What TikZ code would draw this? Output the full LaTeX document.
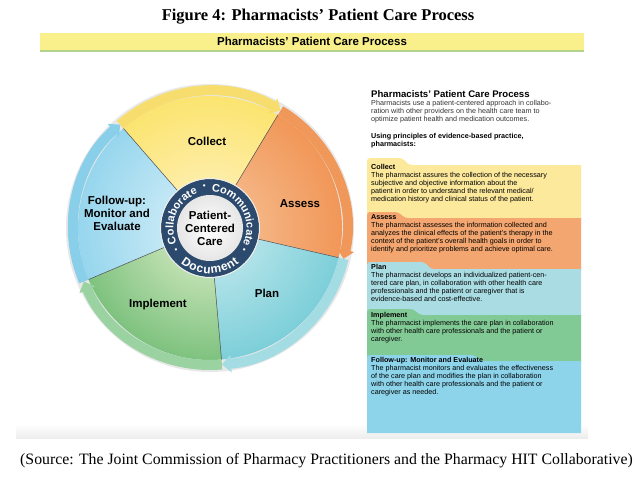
\documentclass[tikz,border=0pt]{standalone}
\usepackage{fontspec}
\setmainfont{Liberation Serif}
\setsansfont{Liberation Sans}
\usetikzlibrary{arrows.meta,decorations.text,calc}

\definecolor{hdryellow}{HTML}{F9F08C}
\definecolor{hdrgreen}{HTML}{B3D38C}
\definecolor{navy}{HTML}{2C4A6E}
\definecolor{collectbox}{HTML}{FCE99C}
\definecolor{assessbox}{HTML}{F3A66F}
\definecolor{planbox}{HTML}{AADDE3}
\definecolor{implbox}{HTML}{82CA95}
\definecolor{followbox}{HTML}{8DD4EB}
\definecolor{collectring}{HTML}{F6DD6E}
\definecolor{assessring}{HTML}{F0985A}
\definecolor{planring}{HTML}{A3DCE2}
\definecolor{implring}{HTML}{9AD2A2}
\definecolor{followring}{HTML}{8ACFEA}
\definecolor{collectin}{HTML}{FFF3C8}
\definecolor{collectout}{HTML}{F8D92E}
\definecolor{assessin}{HTML}{F6C59A}
\definecolor{assessout}{HTML}{EE7428}
\definecolor{planin}{HTML}{CDEDF0}
\definecolor{planout}{HTML}{40B8C8}
\definecolor{implin}{HTML}{E2F0CC}
\definecolor{implout}{HTML}{34A046}
\definecolor{followin}{HTML}{DDF2FA}
\definecolor{followout}{HTML}{62C1E4}

% one shaded slice of the wheel
\newcommand{\wheelpart}[4]{%
  \begin{scope}
    \clip (C) -- ++(#1:132) arc[start angle=#1, end angle=#2, radius=132] -- cycle;
    \shade[inner color=#3, outer color=#4] (C) circle (230);
  \end{scope}}

\begin{document}
\begin{tikzpicture}[x=1pt, y=1pt,
    lbl/.style={font=\sffamily\bfseries\fontsize{11.5}{13}\selectfont, align=center},
    boxtxt/.style={anchor=north west, inner sep=0pt, align=left, font=\sffamily\fontsize{7.2}{8.1}\selectfont},
    band/.style={line width=10pt, -{Triangle[width=17pt,length=9pt]}},
    dot/.style={text=white, inner sep=0pt, font=\sffamily\bfseries\fontsize{8}{8}\selectfont}]
  \fill[white] (0,0) rectangle (644,480);
  \useasboundingbox (0,0) rectangle (644,480);

  % titles
  \node[font=\bfseries\fontsize{16.5}{18}\selectfont] (T) at (318,463) {Figure 4: Pharmacists’ Patient Care Process};
  \shade[top color=white, bottom color=gray!14] (16,42) rectangle (588,56);
  \fill[hdryellow] (40,430) rectangle (584,447);
  \fill[hdrgreen] (40,428) rectangle (584,430);
  \node[font=\sffamily\bfseries\fontsize{11.5}{12}\selectfont] (H) at (312,438.5) {Pharmacists' Patient Care Process};
  \node[font=\fontsize{15.8}{17}\selectfont] (S) at (326.5,19) {(Source: The Joint Commission of Pharmacy Practitioners and the Pharmacy HIT Collaborative)};

  % wheel
  \coordinate (C) at (210,252);
  \fill[gray!18] (C) circle (144);
  \wheelpart{131}{59}{collectin}{collectout}
  \wheelpart{59}{-13}{assessin}{assessout}
  \wheelpart{-13}{-85}{planin}{planout}
  \wheelpart{-85}{-157}{implin}{implout}
  \wheelpart{203}{131}{followin}{followout}
  \foreach \a in {59,131,203,275,347}
    \draw[gray!60!black, line width=0.5pt] (C) -- ++(\a:132);
  \draw[band, collectring] (C) ++(131:137) arc[start angle=131, end angle=59, radius=137];
  \draw[band, assessring] (C) ++(59:137) arc[start angle=59, end angle=-13, radius=137];
  \draw[band, planring] (C) ++(-13:137) arc[start angle=-13, end angle=-85, radius=137];
  \draw[band, implring] (C) ++(-85:137) arc[start angle=-85, end angle=-157, radius=137];
  \draw[band, followring] (C) ++(203:137) arc[start angle=203, end angle=131, radius=137];

  \fill[navy] (C) circle (49);
  \draw[white!85!gray, line width=1pt] (C) circle (49.5);
  \shade[inner color=white, outer color=gray!20] (C) circle (33);
  \path[decorate, decoration={text along path, text color=white, text align=center,
      text={|\sffamily\bfseries\fontsize{11}{11}\selectfont|Collaborate}}]
    (C) ++(222:36.5) arc[start angle=222, end angle=92, radius=36.5];
  \path[decorate, decoration={text along path, text color=white, text align=center,
      text={|\sffamily\bfseries\fontsize{11}{11}\selectfont|Communicate}}]
    (C) ++(102:36.5) arc[start angle=102, end angle=-41, radius=36.5];
  \path[decorate, decoration={text along path, text color=white, text align={fit to path},
      text={|\sffamily\bfseries\fontsize{12}{12}\selectfont|Document}}]
    (C) ++(230:45.5) arc[start angle=230, end angle=310, radius=45.5];
  \node[dot] (d1) at ($(C)+(98:41.5)$) {•};
  \node[dot] (d2) at ($(C)+(214:41)$) {•};
  \node[dot] (d3) at ($(C)+(327:41)$) {•};

  \node[lbl] (collect) at (207,339) {Collect};
  \node[lbl] (assess) at (300,276) {Assess};
  \node[lbl] (plan) at (267,187) {Plan};
  \node[lbl] (implement) at (158,175) {Implement};
  \node[lbl] (follow) at (117,267) {Follow-up:\\Monitor and\\Evaluate};
  \node[lbl] (pcc) at (210,252) {Patient-\\Centered\\Care};

  % side panel
  \node[anchor=north west, inner sep=0pt, font=\sffamily\bfseries\fontsize{9.6}{10}\selectfont] (P) at (371,390) {Pharmacists’ Patient Care Process};
  \node[boxtxt, text=black!80] (intro) at (371,380) {Pharmacists use a patient-centered approach in collabo-\\ration with other providers on the health care team to\\optimize patient health and medication outcomes.};
  \node[boxtxt, font=\sffamily\bfseries\fontsize{7.2}{8.1}\selectfont] (using) at (371,347) {Using principles of evidence-based practice,\\pharmacists:};

  \fill[collectbox] (367,260) [rounded corners=3pt] -- (367,322) -- (402,322) -- (409,315) [sharp corners] -- (581,315) -- (581,260) -- cycle;
  \fill[assessbox] (367,209) [rounded corners=3pt] -- (367,268) -- (398,268) -- (405,262) [sharp corners] -- (581,262) -- (581,209) -- cycle;
  \fill[planbox] (367,163) [rounded corners=3pt] -- (367,218) -- (424,218) -- (431,211) [sharp corners] -- (581,211) -- (581,163) -- cycle;
  \fill[implbox] (367,117) [rounded corners=3pt] -- (367,171) -- (413,171) -- (420,165) [sharp corners] -- (581,165) -- (581,117) -- cycle;
  \fill[followbox] (367,47) [rounded corners=3pt] -- (367,125) -- (474,125) -- (481,119) [sharp corners] -- (581,119) -- (581,47) -- cycle;

  \node[boxtxt] (tc) at (371,316) {\textbf{Collect}\\The pharmacist assures the collection of the necessary\\subjective and objective information about the\\patient in order to understand the relevant medical/\\medication history and clinical status of the patient.};
  \node[boxtxt] (ta) at (371,266) {\textbf{Assess}\\The pharmacist assesses the information collected and\\analyzes the clinical effects of the patient’s therapy in the\\context of the patient’s overall health goals in order to\\identify and prioritize problems and achieve optimal care.};
  \node[boxtxt] (tp) at (371,216) {\textbf{Plan}\\The pharmacist develops an individualized patient-cen-\\tered care plan, in collaboration with other health care\\professionals and the patient or caregiver that is\\evidence-based and cost-effective.};
  \node[boxtxt] (ti) at (371,168) {\textbf{Implement}\\The pharmacist implements the care plan in collaboration\\with other health care professionals and the patient or\\caregiver.};
  \node[boxtxt] (tf) at (371,123) {\textbf{Follow-up: Monitor and Evaluate}\\The pharmacist monitors and evaluates the effectiveness\\of the care plan and modifies the plan in collaboration\\with other health care professionals and the patient or\\caregiver as needed.};
\end{tikzpicture}
\end{document}
